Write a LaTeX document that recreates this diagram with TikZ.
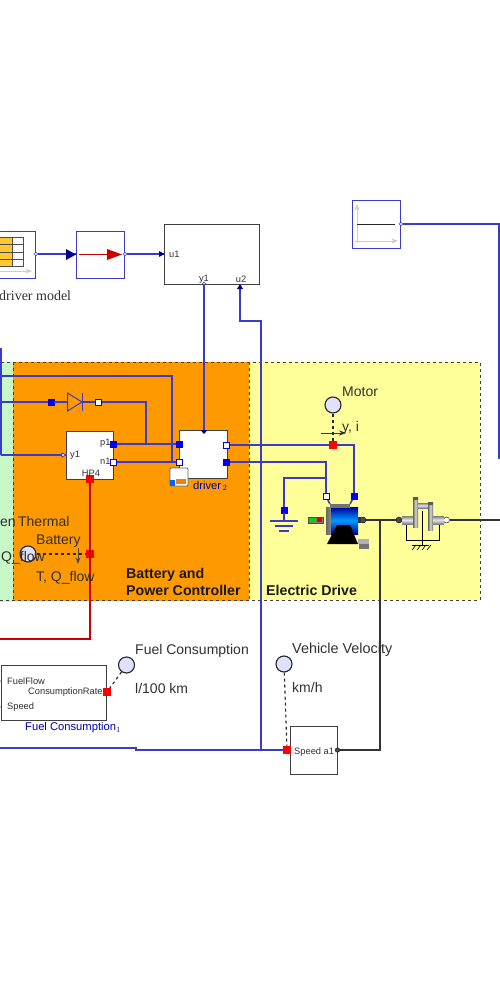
\documentclass[tikz,border=0pt]{standalone}
\usepackage{fontspec}
\setmainfont{Liberation Sans}
\newfontfamily\serifa{Liberation Serif}
\usepackage{tikz}
\usetikzlibrary{arrows.meta,calc}
\usetikzlibrary{positioning}
\definecolor{azulfio}{HTML}{3C3AC8}
\definecolor{azulseta}{HTML}{00008C}
\definecolor{azulport}{HTML}{0000F0}
\definecolor{vermelho}{HTML}{FF0000}
\definecolor{verdefundo}{HTML}{C8F7C8}
\definecolor{laranja}{HTML}{FF9900}
\definecolor{amarelo}{HTML}{FFFF99}
\definecolor{ouro}{HTML}{FFC830}
\definecolor{texto}{HTML}{303030}

\begin{document}
\begin{tikzpicture}[
    x=1pt, y=-1pt,
    >=Stealth,
    font=\fontsize{14}{16}\selectfont,
    text=texto,
    bloco/.style={draw=black!75, line width=0.9pt, fill=white, inner sep=0pt},
    blocoazul/.style={draw=azulfio, line width=0.9pt, fill=white, inner sep=0pt,
                  minimum width=48pt, minimum height=48pt},
    fio/.style={draw=azulfio, line width=1.6pt},
    fiopreto/.style={draw=black!80, line width=1.5pt},
    fiovermelho/.style={draw=red!80!black, line width=1.5pt},
    tracejado/.style={draw=black!85, dashed, line width=1.1pt},
    cheia/.style={draw=azulport, fill=azulport, inner sep=0pt, minimum size=6pt},
    vazia/.style={draw=azulport, fill=white, inner sep=0pt, minimum size=6pt, line width=1pt},
    sinal/.style={draw=vermelho, fill=vermelho, inner sep=0pt, minimum size=7pt},
    eixo/.style={circle, draw=black, fill=black!70, inner sep=0pt, minimum size=6pt},
    eixovazio/.style={circle, draw=black, fill=white, inner sep=0pt, minimum size=6pt},
    saida/.style={circle, draw=azulfio, fill=white, inner sep=0pt, minimum size=3.5pt},
    medidor/.style={circle, draw=black!85, fill=blue!12, line width=1.1pt, inner sep=0pt, minimum size=16pt},
    rotulo/.style={anchor=west, inner sep=0pt},
    pequeno/.style={anchor=west, inner sep=0pt, font=\fontsize{9.3}{10}\selectfont},
    negrito/.style={anchor=west, inner sep=0pt, font=\fontsize{14.2}{17}\selectfont\bfseries, text=black!90, align=left},
    azulado/.style={anchor=west, inner sep=0pt, text=blue!70!black, font=\fontsize{11.2}{12}\selectfont}
  ]

  \useasboundingbox (0,0) rectangle (500,1000);
  \clip (0,0) rectangle (500,1000);

  % ── fundos ──────────────────────────────────────────────────────
  \fill[verdefundo] (-5,362) rectangle (13,602);
  \fill[laranja] (13,362) rectangle (249,601);
  \fill[amarelo] (249,362) rectangle (480,600);
  \draw[black!75, dashed, line width=0.9pt] (-5,362) -- (480,362) -- (480,600) -- (-5,600);
  \draw[black!75, dashed, line width=0.9pt] (13,362) -- (13,601);
  \draw[black!75, dashed, line width=0.9pt] (249,362) -- (249,601);

  % ── blocos ──────────────────────────────────────────────────────
  \node[blocoazul, minimum width=70pt, minimum height=47pt] (tabela) at (0,254.5) {};
  \node[blocoazul, minimum height=47pt] (rampa) at (100,254.5) {};
  \node[bloco, minimum width=95pt, minimum height=60pt] (controle) at (211.5,254) {};
  \node[blocoazul] (grafico) at (376,224) {};
  \node[bloco, minimum width=47pt, minimum height=48pt] (hp) at (89.5,455) {};
  \node[bloco, minimum width=48pt, minimum height=48pt] (driver) at (203,454) {};
  \node[bloco, minimum width=105pt, minimum height=55pt] (consumo) at (53.5,692.5) {};
  \node[bloco, minimum width=47pt, minimum height=48pt] (velocidade) at (313.5,750) {};

  % ── interior dos blocos de cima ──────────────────────────────────
  \fill[ouro] (-2,237) rectangle (12,266);
  \draw[black!70, line width=0.8pt] (-2,237) rectangle (23,266);
  \draw[black!70, line width=0.8pt] (12,237) -- (12,266);
  \foreach \y in {244.5,252,259}
    \draw[black!70, line width=0.8pt] (-2,\y) -- (23,\y);
  \draw[black!20, -{Stealth}, line width=0.8pt] (-2,271) -- (32,271);
  \draw[red!75!black, line width=1pt] (79,254) -- (108,254);
  \fill[red!80!black] (107,249) -- (122,254.5) -- (107,260) -- cycle;
  \draw[black!20, -{Stealth}, line width=0.8pt] (357,243) -- (357,204);
  \draw[black!20, -{Stealth}, line width=0.8pt] (355,241) -- (398,241);
  \draw[black!85, line width=0.8pt] (357,224) -- (395,224);

  % ── pontos livres nas bordas ─────────────────────────────────────
  \coordinate (borda1) at (-2,376);
  \coordinate (borda2) at (-2,402);
  \coordinate (borda3) at (1,455);
  \coordinate (topo3) at (1,348);
  \coordinate (borda4) at (-2,639);
  \coordinate (borda5) at (-2,748);
  \coordinate (borda6) at (501,520);
  \coordinate (borda7) at (501,224);
  \coordinate (fim7) at (499,459);

  % ── portas ───────────────────────────────────────────────────────
  \node[saida] (tabelaS) at (36,254) {};
  \node[saida] (rampaS) at (125,254) {};
  \node[saida] (graficoS) at (401,224) {};
  \node[saida, minimum size=3pt] (controleY) at (204,283.5) {};
  \coordinate (controleU2) at (240,284);
  \coordinate (controleU1) at (164,254);
  \coordinate (rampaE) at (76,254);
  \coordinate (hpY) at (66,455);
  \coordinate (driverTopo) at (204,431);

  \node[cheia] (diodoE) at (51,402) {};
  \node[vazia] (diodoS) at (98.5,402) {};
  \node[cheia] (hpP) at (113.5,444) {};
  \node[vazia] (hpN) at (113.5,462) {};
  \node[sinal] (hpC) at (90,478.5) {};
  \node[sinal] (bateria) at (90,554) {};
  \node[cheia] (driverP) at (179,444) {};
  \node[vazia] (driverN) at (179,462) {};
  \node[vazia] (driverS1) at (226.5,445) {};
  \node[cheia] (driverS2) at (226.5,462) {};
  \node[sinal] (motorS) at (333,445) {};
  \node[vazia] (motorN) at (326,496.5) {};
  \node[cheia] (motorP) at (354,496.5) {};
  \node[cheia] (terra) at (284,510) {};
  \node[eixo] (motorE) at (363,520) {};
  \node[eixo] (caixaE) at (399,520) {};
  \node[eixovazio] (caixaS) at (446.5,520) {};
  \node[sinal] (consumoS) at (107,692) {};
  \node[sinal] (velocidadeE) at (287,750) {};
  \node[eixo, minimum size=4.5pt] (velocidadeS) at (337.5,750) {};
  \coordinate (consumoF) at (1,681);
  \coordinate (consumoV) at (1,707);

  \node[medidor] (medidorB) at (28,554) {};
  \node[medidor] (medidorM) at (333,405) {};
  \node[medidor] (medidorC) at (126.5,665) {};
  \node[medidor] (medidorV) at (284,664) {};

  % ── fios azuis ───────────────────────────────────────────────────
  \draw[fio] (tabelaS) -- (rampaE);
  \fill[azulseta] (66,249) -- (76,254.5) -- (66,260) -- cycle;
  \draw[fio] (rampaS) -- (controleU1);
  \fill[azulseta] (159,251) -- (164.5,254) -- (159,257) -- cycle;
  \draw[fio] (driverTopo |- controleY.south) -- (driverTopo);
  \fill[azulseta] (200.5,430) -- (207.5,430) -- (204,434) -- cycle;
  \draw[fio] (261,750) -- (261,321) -- (240,321) -- (controleU2);
  \fill[azulseta] (237,289) -- (243,289) -- (240,284) -- cycle;
  \draw[fio] (graficoS) -- (borda7 -| fim7) -- (fim7);
  \draw[fio] (borda1) -- (172,376) -- (172,462) -- (driverN);
  \draw[fio] (borda2) -- (diodoE);
  \draw[fio] (diodoS) -- (146,402) -- (146,444) -- (driverP);
  \draw[fio] (topo3) -- (borda3);
  \draw[fio] (borda3) -- (hpY);
  \draw[azulfio, fill=white, line width=0.7pt] (62,453) -- (66,455) -- (62,457) -- cycle;
  \draw[fio] (hpP) -- (driverP);
  \draw[fio] (hpN) -- (driverN);
  \draw[fio] (driverS1) -- (motorS) -- (354,445) -- (motorP);
  \draw[fio] (driverS2) -- (326,462) -- (motorN);
  \draw[fio] (326,478) -- (284,478) -- (terra);
  \draw[fio] (motorN) -- (330,504);
  \draw[fio] (motorP) -- (350,504);
  \draw[fio] (borda5) -- (136,748) -- (136,750) -- (velocidadeE);
  \draw[fio] (terra) -- (284,521);
  \draw[fio] (270,521) -- (298,521);
  \draw[fio] (275,526) -- (293,526);
  \draw[fio] (279,531) -- (289,531);
  \draw[azulseta, -{Stealth[length=4pt]}, line width=0.6pt] (-2,681) -- (consumoF);
  \draw[azulseta, -{Stealth[length=4pt]}, line width=0.6pt] (-2,707) -- (consumoV);

  % ── diodo ────────────────────────────────────────────────────────
  \draw[fio] (diodoE) -- (67.5,402);
  \draw[fio, line width=1pt] (67.5,393) -- (82,402) -- (67.5,411) -- cycle;
  \draw[fio, line width=1pt] (82,393) -- (82,411);
  \draw[fio] (82,402) -- (diodoS);

  % ── fios vermelho e pretos ───────────────────────────────────────
  \draw[fiovermelho] (hpC) -- (90,639) -- (borda4);
  \draw[fiopreto] (motorE) -- (caixaE);
  \draw[fiopreto] (caixaS) -- (borda6);
  \draw[fiopreto] (380,520) -- (380,750) -- (velocidadeS);

  % ── linhas tracejadas ────────────────────────────────────────────
  \draw[tracejado] (medidorB) -- (bateria);
  \draw[tracejado] (medidorM) -- (motorS);
  \draw[tracejado] (medidorC) -- (consumoS);
  \draw[tracejado] (medidorV) -- (velocidadeE);
  \draw[->, black!70, line width=0.8pt] (78,548) -- (78,564);
  \draw[->, black!80, line width=0.9pt] (321,433) -- (346,433);

  % ── motor ────────────────────────────────────────────────────────
  \shade[left color=black!60, right color=black!45] (326,507) rectangle (331,534);
  \shade[top color=blue!60!black, bottom color=blue!60!black, middle color=cyan!60!blue]
    (331,507) rectangle (358,534);
  \fill[black!55] (330,504) rectangle (350,508);
  \fill[black] (337,525) -- (350,525) -- (358,544) -- (327,544) -- cycle;
  \fill[black!80] (358,517) rectangle (361,523);
  \fill[black!30] (358,539) rectangle (369,544);
  \fill[black!55] (359,544) rectangle (369,549);
  \draw[black!70, fill=black!50] (308,517) rectangle (323,523);
  \fill[green!85!black] (309,518) rectangle (315,522);
  \fill[red!90!black] (317,518) rectangle (322,522);

  % ── caixa de engrenagens ─────────────────────────────────────────
  \shade[top color=black!50, bottom color=black!50, middle color=black!10]
    (402,516) rectangle (414,524);
  \shade[left color=black!60, right color=black!60, middle color=black!15]
    (413,497) rectangle (418,527);
  \fill[black!65] (413,497) rectangle (418,500);
  \shade[top color=black!50, bottom color=black!50, middle color=black!10]
    (418,503) rectangle (429,508);
  \shade[left color=black!60, right color=black!60, middle color=black!15]
    (428,502) rectangle (433,530);
  \fill[black!65] (428,502) rectangle (433,505);
  \shade[top color=black!50, bottom color=black!50, middle color=black!10]
    (433,516) rectangle (444,524);
  \draw[black, line width=0.9pt] (406,525) -- (406,540) -- (439,540) -- (439,525);
  \draw[black, line width=0.9pt] (422,511) -- (422,545);
  \draw[black, line width=0.9pt] (412,545) -- (429,545);
  \foreach \x in {416,421,426,431}
    \draw[black, line width=0.6pt] (\x,545) -- (\x-4,550);

  % ── ícone do driver ──────────────────────────────────────────────
  \draw[black!60!cyan, fill=white, rounded corners=1pt, line width=0.9pt] (170,468) rectangle (188,486);
  \fill[orange!80!brown] (176,479) rectangle (186,484);
  \fill[blue!60!cyan] (170,480) rectangle (175,486);

  % ── textos ───────────────────────────────────────────────────────
  \node[rotulo, font=\serifa\fontsize{14}{16}\selectfont] (txtmodelo) at (-1,296) {driver model};
  \node[pequeno] (txtu1) at (169,254.5) {u1};
  \node[pequeno, anchor=center] (txty1) at (204,279) {y1};
  \node[pequeno, anchor=center] (txtu2) at (241,279) {u2};
  \node[pequeno] (txtp1) at (100,443) {p1};
  \node[pequeno] (txtn1) at (100,461) {n1};
  \node[pequeno] (txtyh) at (70,455) {y1};
  \node[pequeno, anchor=center] (txthp) at (91,473) {HP4};
  \node[azulado] (txtdriver) at (193,486) {driver$_{\,2}$};
  \node[rotulo] (txttermica) at (0,521) {en\hspace{-1.5pt} Thermal};
  \node[rotulo] (txtbateria) at (36,541) {Battery};
  \node[rotulo] (txtqflow) at (1,558) {Q\_flow};
  \node[rotulo] (txttq) at (36,578) {T, Q\_flow};
  \node[negrito] (txtcontrolador) at (126,581.5) {Battery and\\Power Controller};
  \node[negrito] (txtdrive) at (266,590) {Electric Drive};
  \node[rotulo] (txtmotor) at (342,392) {Motor};
  \node[rotulo] (txtyi) at (342,428) {y, i};
  \node[rotulo] (txtcons) at (135,651) {Fuel Consumption};
  \node[rotulo] (txtlitro) at (135,688) {l/100 km};
  \node[rotulo, font=\fontsize{14.4}{16}\selectfont] (txtvel) at (292,650) {Vehicle Velocity};
  \node[rotulo] (txtkm) at (292,687) {km/h};
  \node[pequeno] (txtff) at (7,681) {FuelFlow};
  \node[pequeno] (txtcr) at (28,692) {ConsumptionRate};
  \node[pequeno] (txtsp) at (7,707) {Speed};
  \node[pequeno] (txtsa) at (294,752) {Speed a1};
  \node[azulado] (txtfc) at (25,728) {Fuel Consumption$_{1}$};

\end{tikzpicture}
\end{document}
